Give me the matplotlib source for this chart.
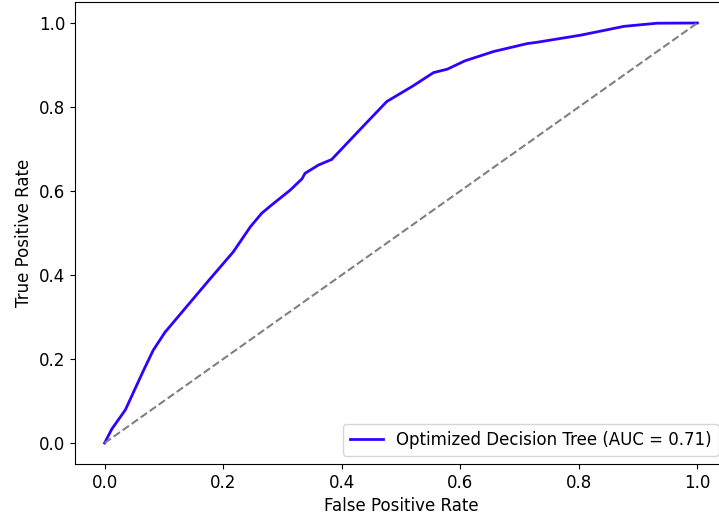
import matplotlib
matplotlib.use('Agg')
import matplotlib.pyplot as plt

# ROC curve points
fpr = [0.0, 0.012, 0.035, 0.066, 0.082, 0.102, 0.178, 0.217, 0.246, 0.265,
       0.282, 0.313, 0.333, 0.338, 0.361, 0.383, 0.430, 0.476, 0.520, 0.555,
       0.578, 0.608, 0.656, 0.713, 0.729, 0.803, 0.876, 0.932, 1.0]
tpr = [0.0, 0.033, 0.079, 0.174, 0.221, 0.264, 0.391, 0.455, 0.515, 0.547,
       0.567, 0.602, 0.629, 0.642, 0.662, 0.675, 0.745, 0.813, 0.850, 0.882,
       0.890, 0.910, 0.932, 0.951, 0.954, 0.971, 0.992, 0.9995, 1.0]
roc_auc = 0.71

plt.rcParams['font.size'] = 12

fig = plt.figure(figsize=(7.19, 5.20), dpi=100)
ax = fig.add_axes([75 / 719, 56 / 520, 652 / 719, 462 / 520])

ax.plot(fpr, tpr, color='#3300ff', lw=2,
        label=f'Optimized Decision Tree (AUC = {roc_auc:.2f})')
ax.plot([0, 1], [0, 1], color='gray', linestyle='--')
ax.set_xlabel('False Positive Rate')
ax.set_ylabel('True Positive Rate')
ax.legend(loc='lower right')

fig.savefig('out.png', dpi=100)
